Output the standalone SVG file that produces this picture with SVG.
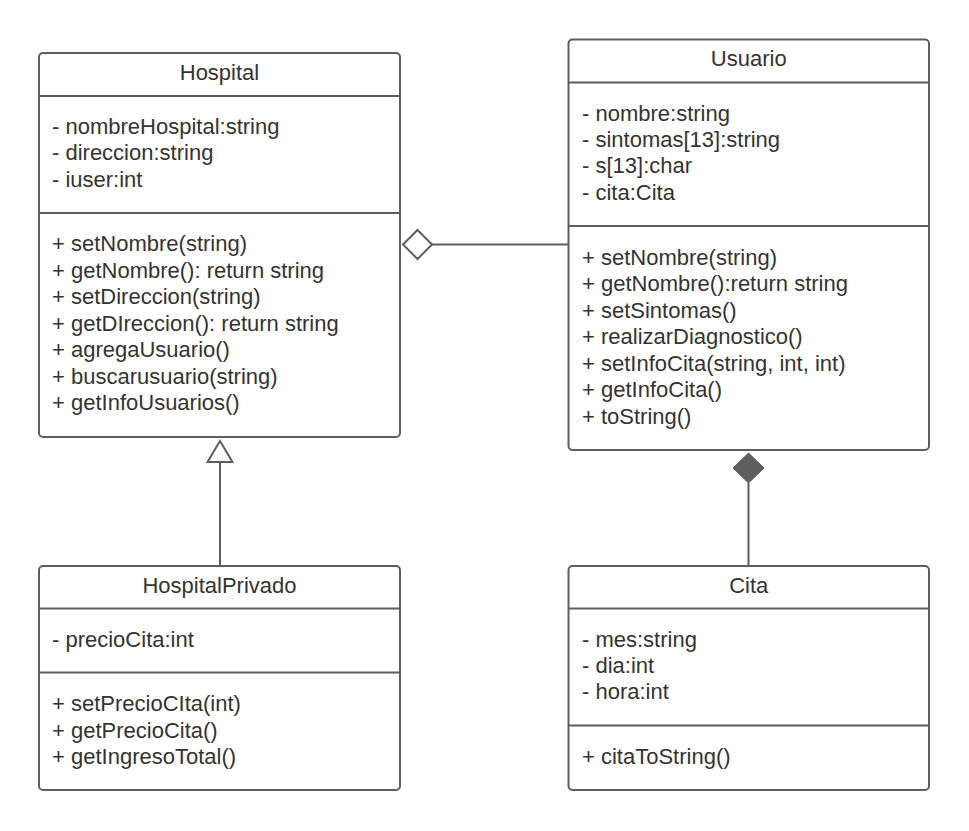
<svg xmlns="http://www.w3.org/2000/svg" width="969" height="831" viewBox="0 0 969 831">
<style>
.box{fill:#ffffff;stroke:#5e5e5e;stroke-width:2}
.div{stroke:#5e5e5e;stroke-width:2;fill:none}
.t{font-family:"Liberation Sans",Arial,sans-serif;font-size:22px;fill:#333333}
.c{text-anchor:middle}
.conn{stroke:#5e5e5e;stroke-width:2;fill:none}
</style>
<rect width="969" height="831" fill="#ffffff"/>
<g id="Hospital">
<rect class="box" x="39" y="53" width="361" height="384" rx="4"/>
<line class="div" x1="39" y1="96" x2="400" y2="96"/>
<line class="div" x1="39" y1="213" x2="400" y2="213"/>
<text class="t c" x="219.5" y="79.5">Hospital</text>
<text class="t" x="52" y="134">- nombreHospital:string</text>
<text class="t" x="52" y="160.4">- direccion:string</text>
<text class="t" x="52" y="186.8">- iuser:int</text>
<text class="t" x="52" y="251">+ setNombre(string)</text>
<text class="t" x="52" y="277.5">+ getNombre(): return string</text>
<text class="t" x="52" y="304">+ setDireccion(string)</text>
<text class="t" x="52" y="330.5">+ getDIreccion(): return string</text>
<text class="t" x="52" y="357">+ agregaUsuario()</text>
<text class="t" x="52" y="383.5">+ buscarusuario(string)</text>
<text class="t" x="52" y="410">+ getInfoUsuarios()</text>
</g>
<g id="Usuario">
<rect class="box" x="568.5" y="39.5" width="360.5" height="410.5" rx="4"/>
<line class="div" x1="568.5" y1="82.5" x2="929" y2="82.5"/>
<line class="div" x1="568.5" y1="226" x2="929" y2="226"/>
<text class="t c" x="748.75" y="66">Usuario</text>
<text class="t" x="582" y="120.5">- nombre:string</text>
<text class="t" x="582" y="146.9">- sintomas[13]:string</text>
<text class="t" x="582" y="173.3">- s[13]:char</text>
<text class="t" x="582" y="199.7">- cita:Cita</text>
<text class="t" x="582" y="264.5">+ setNombre(string)</text>
<text class="t" x="582" y="291">+ getNombre():return string</text>
<text class="t" x="582" y="317.5">+ setSintomas()</text>
<text class="t" x="582" y="344">+ realizarDiagnostico()</text>
<text class="t" x="582" y="370.5">+ setInfoCita(string, int, int)</text>
<text class="t" x="582" y="397">+ getInfoCita()</text>
<text class="t" x="582" y="423.5">+ toString()</text>
</g>
<g id="HospitalPrivado">
<rect class="box" x="39" y="566" width="361" height="224" rx="4"/>
<line class="div" x1="39" y1="608.5" x2="400" y2="608.5"/>
<line class="div" x1="39" y1="672.5" x2="400" y2="672.5"/>
<text class="t c" x="219.5" y="592.5">HospitalPrivado</text>
<text class="t" x="52" y="647">- precioCita:int</text>
<text class="t" x="52" y="711">+ setPrecioCIta(int)</text>
<text class="t" x="52" y="737.5">+ getPrecioCita()</text>
<text class="t" x="52" y="764">+ getIngresoTotal()</text>
</g>
<g id="Cita">
<rect class="box" x="568.5" y="566" width="360.5" height="224" rx="4"/>
<line class="div" x1="568.5" y1="608.5" x2="929" y2="608.5"/>
<line class="div" x1="568.5" y1="725.5" x2="929" y2="725.5"/>
<text class="t c" x="748.75" y="592.5">Cita</text>
<text class="t" x="582" y="646.5">- mes:string</text>
<text class="t" x="582" y="672.9">- dia:int</text>
<text class="t" x="582" y="699.3">- hora:int</text>
<text class="t" x="582" y="764">+ citaToString()</text>
</g>
<g id="connectors">
<line class="conn" x1="432" y1="244.5" x2="568.5" y2="244.5"/>
<polygon class="conn" fill="#ffffff" points="403,244.5 417.5,230 432,244.5 417.5,259" style="fill:#ffffff"/>
<line class="conn" x1="220" y1="462" x2="220" y2="566"/>
<polygon class="conn" points="220,441 232.5,462 207.5,462" style="fill:#ffffff"/>
<line class="conn" x1="748.5" y1="483" x2="748.5" y2="566"/>
<polygon points="748.5,453 764,468 748.5,483 733,468" fill="#5e5e5e" stroke="#5e5e5e" stroke-width="1"/>
</g>
</svg>
